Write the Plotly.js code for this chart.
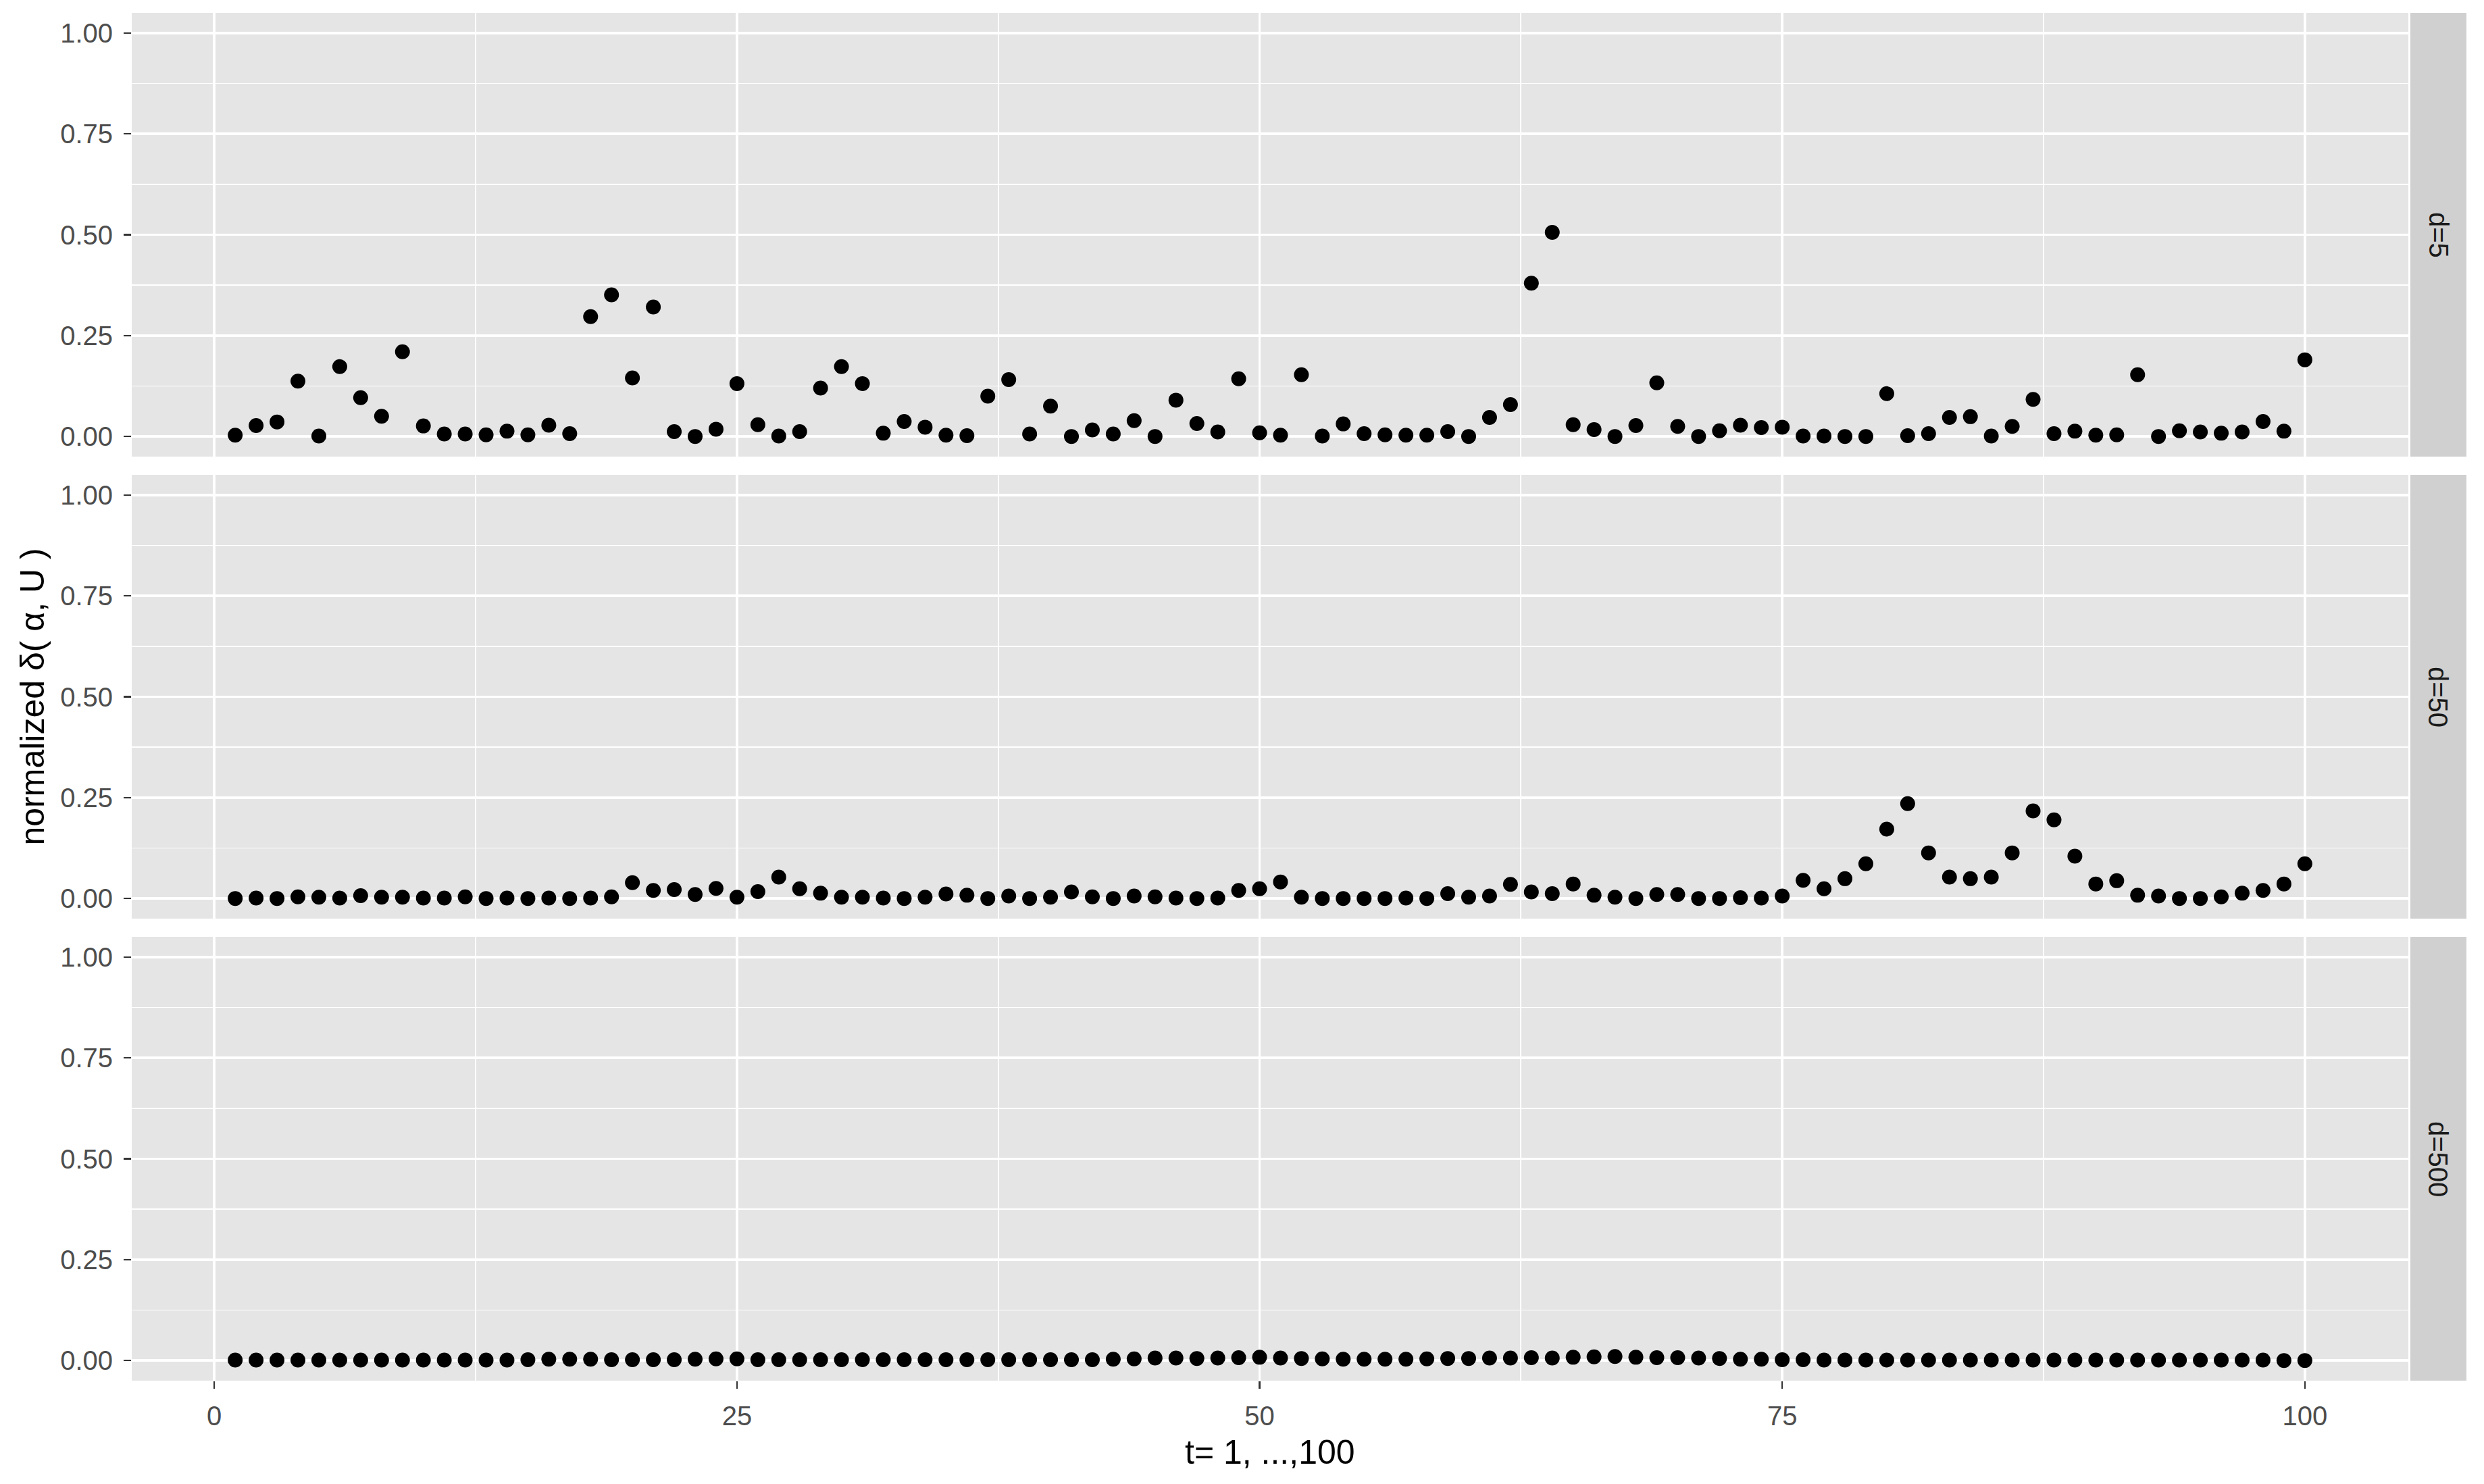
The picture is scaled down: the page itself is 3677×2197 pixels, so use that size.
<!DOCTYPE html>
<html>
<head>
<meta charset="utf-8">
<script src="https://cdn.plot.ly/plotly-3.0.1.min.js"></script>
<style>
  html, body { margin: 0; padding: 0; background: #ffffff; }
  #grafico { width: 3677px; height: 2197px; }
</style>
</head>
<body>
<div id="grafico"></div>
<script>
// t = 1..100
const tIndex = [
  1, 2, 3, 4, 5, 6, 7, 8, 9, 10, 11, 12, 13, 14, 15, 16, 17, 18, 19, 20,
  21, 22, 23, 24, 25, 26, 27, 28, 29, 30, 31, 32, 33, 34, 35, 36, 37, 38, 39, 40,
  41, 42, 43, 44, 45, 46, 47, 48, 49, 50, 51, 52, 53, 54, 55, 56, 57, 58, 59, 60,
  61, 62, 63, 64, 65, 66, 67, 68, 69, 70, 71, 72, 73, 74, 75, 76, 77, 78, 79, 80,
  81, 82, 83, 84, 85, 86, 87, 88, 89, 90, 91, 92, 93, 94, 95, 96, 97, 98, 99, 100
];

// normalized delta, panel d=5
const deltaD5 = [
  0.003, 0.027, 0.036, 0.137, 0.001, 0.173, 0.096, 0.050, 0.210, 0.026,
  0.006, 0.006, 0.004, 0.013, 0.004, 0.028, 0.007, 0.297, 0.351, 0.145,
  0.321, 0.012, 0.000, 0.018, 0.131, 0.029, 0.001, 0.012, 0.120, 0.173,
  0.131, 0.008, 0.037, 0.023, 0.003, 0.002, 0.100, 0.141, 0.006, 0.075,
  0.000, 0.016, 0.006, 0.039, 0.000, 0.090, 0.032, 0.011, 0.143, 0.009,
  0.003, 0.153, 0.001, 0.031, 0.007, 0.004, 0.003, 0.003, 0.012, 0.000,
  0.047, 0.079, 0.380, 0.506, 0.029, 0.017, 0.000, 0.027, 0.133, 0.025,
  0.000, 0.014, 0.028, 0.022, 0.023, 0.001, 0.001, 0.000, 0.000, 0.106,
  0.002, 0.007, 0.047, 0.049, 0.001, 0.025, 0.092, 0.007, 0.013, 0.003,
  0.004, 0.153, 0.000, 0.014, 0.011, 0.008, 0.011, 0.037, 0.013, 0.190
];

// panel d=50
const deltaD50 = [
  0.000, 0.001, 0.000, 0.004, 0.003, 0.001, 0.007, 0.003, 0.003, 0.001,
  0.001, 0.004, 0.000, 0.001, 0.000, 0.001, 0.000, 0.001, 0.004, 0.039,
  0.020, 0.022, 0.010, 0.025, 0.003, 0.017, 0.053, 0.024, 0.013, 0.003,
  0.003, 0.001, 0.000, 0.003, 0.011, 0.008, 0.000, 0.006, 0.000, 0.003,
  0.016, 0.004, 0.000, 0.006, 0.004, 0.001, 0.000, 0.001, 0.020, 0.024,
  0.041, 0.003, 0.000, 0.000, 0.000, 0.000, 0.001, 0.000, 0.012, 0.003,
  0.006, 0.035, 0.016, 0.012, 0.036, 0.008, 0.003, 0.000, 0.010, 0.010,
  0.000, 0.000, 0.002, 0.001, 0.006, 0.045, 0.024, 0.049, 0.086, 0.172,
  0.235, 0.113, 0.053, 0.049, 0.053, 0.113, 0.217, 0.195, 0.105, 0.036,
  0.044, 0.008, 0.006, 0.000, 0.000, 0.004, 0.013, 0.020, 0.036, 0.086
];

// panel d=500
const deltaD500 = [
  0.001, 0.001, 0.001, 0.001, 0.001, 0.001, 0.001, 0.001, 0.001, 0.001,
  0.001, 0.001, 0.001, 0.001, 0.002, 0.003, 0.003, 0.003, 0.002, 0.002,
  0.002, 0.002, 0.003, 0.004, 0.004, 0.002, 0.002, 0.002, 0.002, 0.002,
  0.002, 0.002, 0.002, 0.002, 0.002, 0.002, 0.002, 0.002, 0.002, 0.002,
  0.002, 0.002, 0.003, 0.004, 0.006, 0.006, 0.005, 0.006, 0.007, 0.008,
  0.006, 0.005, 0.004, 0.003, 0.003, 0.003, 0.003, 0.004, 0.005, 0.005,
  0.006, 0.006, 0.007, 0.006, 0.008, 0.009, 0.010, 0.008, 0.007, 0.007,
  0.006, 0.005, 0.003, 0.003, 0.002, 0.002, 0.001, 0.001, 0.001, 0.001,
  0.001, 0.001, 0.001, 0.001, 0.001, 0.001, 0.001, 0.001, 0.001, 0.001,
  0.001, 0.001, 0.001, 0.001, 0.001, 0.001, 0.001, 0.001, 0.000, 0.000
];

const etiquetasFacetas = ["d=5", "d=50", "d=500"];
const ticksY = [0, 0.25, 0.5, 0.75, 1];
const textoTicksY = ["0.00", "0.25", "0.50", "0.75", "1.00"];
const ticksX = [0, 25, 50, 75, 100];

const fuente = "Liberation Sans, Arial, Helvetica, sans-serif";
const W = 3677, H = 2197;

// panel boxes in pixels (top, bottom)
const paneles = [[19, 676], [703, 1360], [1387, 2044]];
const izq = 195, der = 3565;
const stripIzq = 3568, stripDer = 3651;

const series = [deltaD5, deltaD50, deltaD500];

const trazas = series.map((vals, i) => ({
    x: tIndex,
    y: vals,
    xaxis: i === 0 ? "x" : "x" + (i + 1),
    yaxis: i === 0 ? "y" : "y" + (i + 1),
    mode: "markers",
    type: "scatter",
    marker: { color: "#000000", size: 22, line: { width: 0 } },
    showlegend: false,
    hoverinfo: "x+y"
}));

const layout = {
    width: W,
    height: H,
    margin: { l: 0, r: 0, t: 0, b: 0 },
    paper_bgcolor: "#ffffff",
    plot_bgcolor: "#E5E5E5",
    font: { family: fuente, size: 40, color: "#4D4D4D" },
    showlegend: false,
    shapes: [],
    annotations: []
};

paneles.forEach((p, i) => {
    const sufijo = i === 0 ? "" : String(i + 1);
    const dominioY = [1 - p[1] / H, 1 - p[0] / H];
    const esUltimo = i === paneles.length - 1;

    layout["xaxis" + sufijo] = {
        domain: [izq / W, der / W],
        anchor: "y" + sufijo,
        range: [-3.95, 104.95],
        tickmode: "array",
        tickvals: ticksX,
        ticktext: ticksX.map(String),
        showticklabels: esUltimo,
        ticks: esUltimo ? "outside" : "",
        ticklen: 11,
        tickwidth: 2.5,
        tickcolor: "#333333",
        ticklabelstandoff: 6,
        tickfont: { family: fuente, size: 40, color: "#4D4D4D" },
        showgrid: true,
        gridcolor: "#FFFFFF",
        gridwidth: 3.5,
        minor: { tickmode: "linear", tick0: 12.5, dtick: 25, showgrid: true, gridcolor: "#FFFFFF", gridwidth: 1.8 },
        zeroline: false,
        showline: false,
        fixedrange: true
    };

    layout["yaxis" + sufijo] = {
        domain: dominioY,
        anchor: "x" + sufijo,
        range: [-0.05, 1.05],
        tickmode: "array",
        tickvals: ticksY,
        ticktext: textoTicksY,
        ticks: "outside",
        ticklen: 11,
        tickwidth: 2.5,
        tickcolor: "#333333",
        ticklabelstandoff: 8,
        tickfont: { family: fuente, size: 40, color: "#4D4D4D" },
        showgrid: true,
        gridcolor: "#FFFFFF",
        gridwidth: 3.5,
        minor: { tickmode: "linear", tick0: 0.125, dtick: 0.25, showgrid: true, gridcolor: "#FFFFFF", gridwidth: 1.8 },
        zeroline: false,
        showline: false,
        fixedrange: true
    };

    // strip on the right
    layout.shapes.push({
        type: "rect",
        xref: "paper", yref: "paper",
        x0: stripIzq / W, x1: stripDer / W,
        y0: dominioY[0], y1: dominioY[1],
        fillcolor: "#D0D0D0",
        line: { width: 0 },
        layer: "below"
    });

    layout.annotations.push({
        xref: "paper", yref: "paper",
        x: (stripIzq + stripDer) / 2 / W,
        y: (dominioY[0] + dominioY[1]) / 2,
        text: etiquetasFacetas[i],
        textangle: 90,
        showarrow: false,
        xanchor: "center", yanchor: "middle",
        font: { family: fuente, size: 40, color: "#1A1A1A" }
    });
});

// axis titles
layout.annotations.push({
    xref: "paper", yref: "paper",
    x: (izq + der) / 2 / W,
    y: 1 - 2150 / H,
    text: "t= 1, ...,100",
    showarrow: false,
    xanchor: "center", yanchor: "middle",
    font: { family: fuente, size: 50, color: "#000000" }
});

layout.annotations.push({
    xref: "paper", yref: "paper",
    x: 47 / W,
    y: 1 - ((paneles[0][0] + paneles[2][1]) / 2) / H,
    text: "normalized δ( α, U )",
    textangle: -90,
    showarrow: false,
    xanchor: "center", yanchor: "middle",
    font: { family: fuente, size: 50, color: "#000000" }
});

Plotly.newPlot("grafico", trazas, layout, { staticPlot: true, displayModeBar: false });
</script>
</body>
</html>
